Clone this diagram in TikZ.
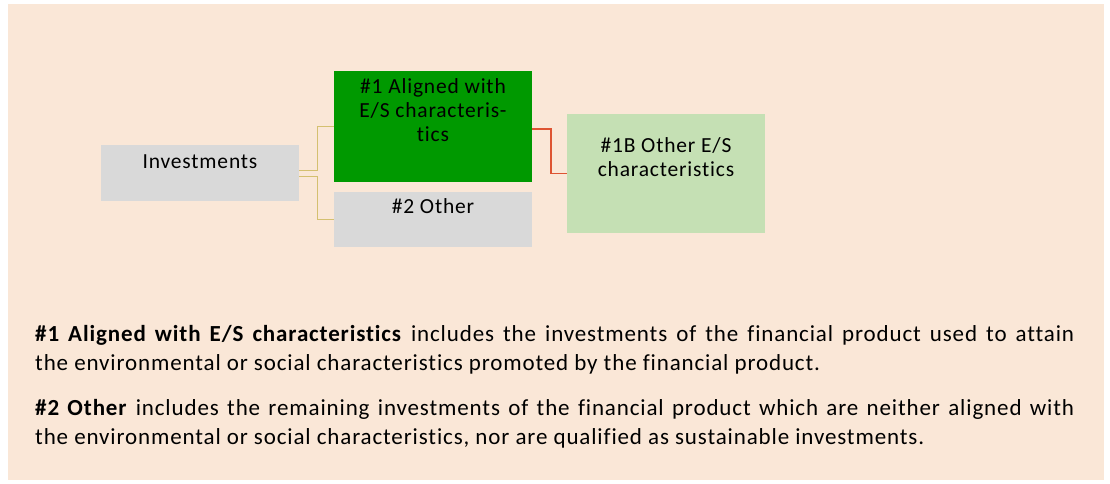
\documentclass[tikz,border=0pt]{standalone}
\usepackage{fontspec}
\setmainfont{Carlito}[LetterSpace=3.8, Ligatures=CommonOff]
\usepackage{tikz}
\definecolor{panelbeige}{RGB}{250, 231, 215}
\definecolor{boxgray}{RGB}{217, 217, 217}
\definecolor{alignedgreen}{RGB}{0, 153, 0}
\definecolor{othergreen}{RGB}{197, 224, 180}
\definecolor{linkgold}{RGB}{212, 192, 112}
\definecolor{linkred}{RGB}{222, 84, 50}

\begin{document}
\begin{tikzpicture}[x=1pt, y=-1pt,
    box/.style={rectangle, anchor=north west, inner sep=0pt, outer sep=0pt},
    boxtext/.style={anchor=north, align=center, inner sep=3pt, yshift=-3pt, font=\fontsize{21.5}{24}\selectfont},
    goldlink/.style={draw=linkgold, line width=1pt},
    redlink/.style={draw=linkred, line width=1.5pt},
    notes/.style={anchor=north west, inner sep=0pt, text width=1039pt, align=justify, font=\fontsize{23}{29}\selectfont}
]

% Panel
\useasboundingbox (0,0) rectangle (1110,483);
\fill[panelbeige] (8,4) rectangle (1104,480);

% Boxes
\node[box, fill=boxgray, minimum width=198pt, minimum height=56pt,
      label={[boxtext, yshift=-3pt]north:Investments}] (inv) at (101,145) {};
\node[box, fill=alignedgreen, minimum width=198pt, minimum height=111pt,
      label={[boxtext, yshift=-1pt]north:\#1 Aligned with\\E/S characteris-\\tics}] (aligned) at (334,71) {};
\node[box, fill=boxgray, minimum width=198pt, minimum height=55pt,
      label={[boxtext]north:\#2 Other}] (other) at (334,192) {};
\node[box, fill=othergreen, minimum width=198pt, minimum height=119pt,
      label={[boxtext, yshift=-17pt]north:\#1B Other E/S\\characteristics}] (otheres) at (567,114) {};

% Connections
\draw[goldlink] ([yshift=3pt]inv.east) -- ++(18,0) |- (aligned.west);
\draw[goldlink] ([yshift=-3pt]inv.east) -- ++(18,0) |- (other.west);
\draw[redlink] ([yshift=-2.5pt]aligned.east) -- ++(19,0) |- (otheres.west);

% Notes
\node[notes] (legend) at (35,325) {\textbf{\#1 Aligned with E/S characteristics} includes the investments of the financial product used to attain\linebreak
the environmental or social characteristics promoted by the financial product.\par\vskip16pt
\textbf{\#2 Other} includes the remaining investments of the financial product which are neither aligned with\linebreak
the environmental or social characteristics, nor are qualified as sustainable investments.};

\end{tikzpicture}
\end{document}
